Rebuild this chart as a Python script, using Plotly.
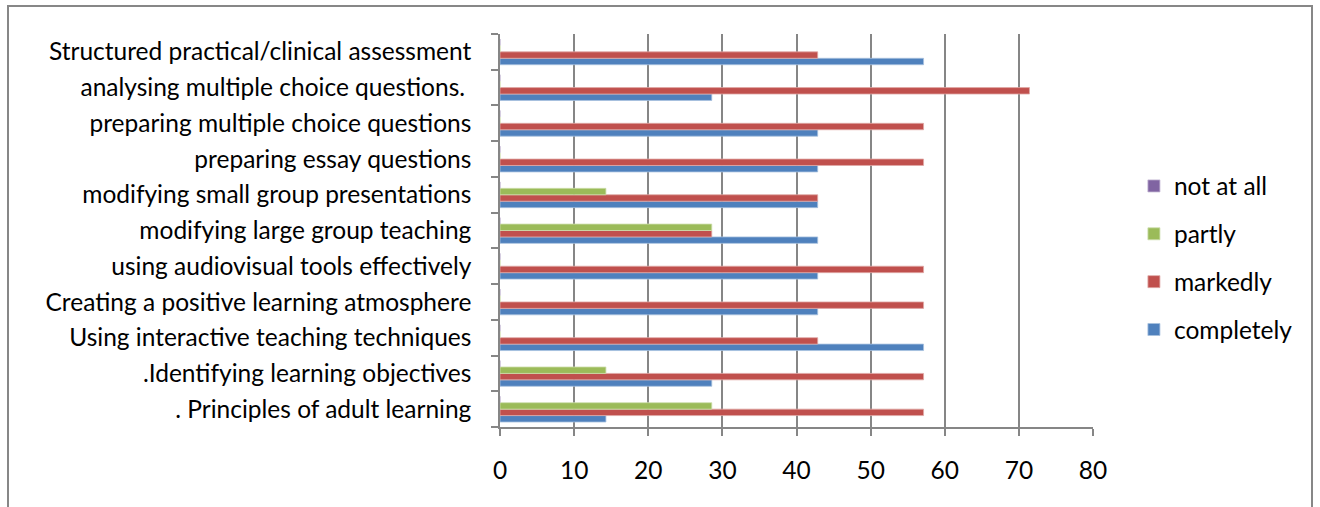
import plotly.graph_objects as go

# Topics, listed bottom-to-top as they appear on the category axis
topics = [
    ". Principles of adult learning",
    ".Identifying learning objectives",
    "Using interactive teaching techniques",
    "Creating a positive learning atmosphere",
    "using audiovisual tools effectively",
    "modifying large group teaching",
    "modifying small group presentations",
    "preparing essay questions",
    "preparing multiple choice questions",
    "analysing multiple choice questions. ",
    "Structured practical/clinical assessment",
]

# Percentage of respondents per response level
completely = [14.29, 28.57, 57.14, 42.86, 42.86, 42.86, 42.86, 42.86, 42.86, 28.57, 57.14]
markedly = [57.14, 57.14, 42.86, 57.14, 57.14, 28.57, 42.86, 57.14, 57.14, 71.43, 42.86]
partly = [28.57, 14.29, 0, 0, 0, 28.57, 14.29, 0, 0, 0, 0]
not_at_all = [0, 0, 0, 0, 0, 0, 0, 0, 0, 0, 0]

x_ticks = [0, 10, 20, 30, 40, 50, 60, 70, 80]

series = [
    ("completely", completely, "#4F81BD", "#A7C0DE", 4),
    ("markedly", markedly, "#C0504D", "#DFA8A6", 3),
    ("partly", partly, "#9BBB59", "#CDDDAC", 2),
    ("not at all", not_at_all, "#8064A2", "#BFB1D0", 1),
]

fig = go.Figure()
for name, vals, color, edge, rank in series:
    fig.add_trace(go.Bar(
        y=topics, x=vals, name=name, orientation="h",
        marker=dict(color=color, line=dict(color=edge, width=0.8)),
        legendgroup=name, legendrank=rank,
    ))

grid_col = "#868686"
fig.update_layout(
    width=1320, height=507,
    margin=dict(l=500, r=227, t=34, b=80),
    paper_bgcolor="white", plot_bgcolor="white",
    barmode="group", bargap=0.28, bargroupgap=0,
    font=dict(family="Lato, Carlito, sans-serif", size=24.5, color="black"),
    showlegend=True,
    legend=dict(
        x=1.069, xanchor="left", y=0.43, yanchor="middle",
        traceorder="grouped", tracegroupgap=13,
        font=dict(size=24.5), itemwidth=30,
    ),
    xaxis=dict(
        range=[0, 80], tickvals=x_ticks, showgrid=True,
        gridcolor=grid_col, gridwidth=1.8,
        showline=True, linecolor=grid_col, linewidth=1.5,
        ticks="outside", ticklen=7, tickcolor=grid_col, tickwidth=1.5,
        ticklabelstandoff=14,
        zeroline=False, fixedrange=True,
    ),
    yaxis=dict(
        type="category", categoryorder="array", categoryarray=topics,
        showline=True, linecolor=grid_col, linewidth=1.5,
        ticks="outside", tickson="boundaries", ticklen=7,
        tickcolor=grid_col, tickwidth=1.5, showgrid=False,
        ticklabelstandoff=22, fixedrange=True,
    ),
    shapes=[
        # Outer chart frame
        dict(type="rect", xref="paper", yref="paper",
             x0=(8 - 500) / 593, x1=(1312 - 500) / 593,
             y0=-0.4, y1=(427 - 6) / 393,
             line=dict(color="#878787", width=2), layer="below"),
    ],
)

fig.write_html("out.html")
